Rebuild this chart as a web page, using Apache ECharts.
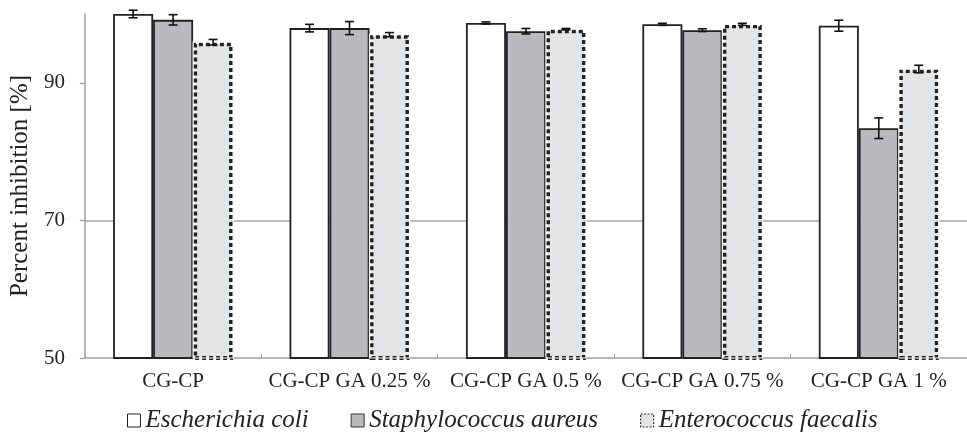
<!DOCTYPE html>
<html>
<head>
<meta charset="utf-8">
<script src="https://cdn.jsdelivr.net/npm/echarts@6/dist/echarts.min.js"></script>
<style>
html,body{margin:0;padding:0;background:#fff;}
#chart{width:967px;height:433px;}
</style>
</head>
<body>
<div id="chart"></div>
<script>
// ---- data ----
var categories = ['CG-CP', 'CG-CP GA 0.25 %', 'CG-CP GA 0.5 %', 'CG-CP GA 0.75 %', 'CG-CP GA 1 %'];
var seriesNames = ['Escherichia coli', 'Staphylococcus aureus', 'Enterococcus faecalis'];
var ecoli = [100.0, 97.95, 98.7, 98.5, 98.3];
var ecoliErr = [0.55, 0.55, 0.15, 0.15, 0.8];
var saureus = [99.15, 97.95, 97.5, 97.65, 83.4];
var saureusErr = [0.75, 0.95, 0.4, 0.2, 1.5];
var efaecalis = [95.9, 97.0, 97.8, 98.5, 92.0];
var efaecalisErr = [0.4, 0.3, 0.1, 0.15, 0.55];
var yTicks = [50, 70, 90];
var yMin = 50, yMax = 100, yInterval = 20;

// ---- build ----
var FONT = 'Liberation Serif';
var BAR_W = 40;
var values = [ecoli, saureus, efaecalis];
var errs = [ecoliErr, saureusErr, efaecalisErr];

var errData = [];
for (var s = 0; s < 3; s++) {
  for (var i = 0; i < categories.length; i++) {
    errData.push([i, values[s][i], errs[s][i], s]);
  }
}
var halfTicks = [];
for (var k = 0; k < categories.length * 2; k++) halfTicks.push('t' + k);

var overlayData = efaecalis.map(function (v, i) { return [i, v]; });

var chart = echarts.init(document.getElementById('chart'), null, {renderer: 'canvas'});
chart.setOption({
  animation: false,
  backgroundColor: '#fff',
  grid: {left: 83, right: -11, top: 14, bottom: 75, containLabel: false},
  legend: {
    left: 122, top: 403,
    itemWidth: 13, itemHeight: 13, itemGap: 42,
    textStyle: {fontFamily: FONT, fontSize: 25, fontStyle: 'italic', color: '#222'},
    data: [
      {name: seriesNames[0], icon: 'rect', itemStyle: {color: '#fff', borderColor: '#222', borderWidth: 1, borderType: 'solid'}},
      {name: seriesNames[1], icon: 'rect', itemStyle: {color: '#b9babd', borderColor: '#333', borderWidth: 1, borderType: 'solid'}},
      {name: seriesNames[2], icon: 'rect', itemStyle: {color: '#e3e4e6', borderColor: '#333', borderWidth: 1.2, borderType: [2, 1.5]}}
    ]
  },
  xAxis: [{
    type: 'category',
    data: categories,
    axisLine: {show: true, lineStyle: {color: '#a0a0a0', width: 1.5}},
    axisTick: {show: false},
    axisLabel: {interval: 0, fontFamily: FONT, fontSize: 21, color: '#222', margin: 13}
  }, {
    type: 'category',
    data: halfTicks,
    position: 'bottom',
    axisLine: {show: false},
    axisLabel: {show: false},
    axisTick: {show: true, inside: true, length: 4, lineStyle: {color: '#a0a0a0', width: 1}}
  }],
  yAxis: {
    type: 'value',
    min: yMin, max: yMax, interval: yInterval,
    name: 'Percent inhibition [%]',
    nameLocation: 'middle',
    nameGap: 47,
    nameTextStyle: {fontFamily: FONT, fontSize: 25, color: '#222'},
    axisLine: {show: true, lineStyle: {color: '#a0a0a0', width: 1.5}},
    axisTick: {show: true, length: 5, customValues: yTicks, lineStyle: {color: '#a0a0a0', width: 1.3}},
    axisLabel: {fontFamily: FONT, fontSize: 21, color: '#222', margin: 20, customValues: yTicks},
    splitLine: {show: true, showMinLine: false, showMaxLine: false, lineStyle: {color: '#a8a8a8', width: 1.5}}
  },
  series: [{
    name: seriesNames[0], type: 'bar', data: ecoli, barWidth: BAR_W, barGap: '0%',
    itemStyle: {color: '#ffffff', borderColor: '#222', borderWidth: 1.8}
  }, {
    name: seriesNames[1], type: 'bar', data: saureus, barWidth: BAR_W, barGap: '0%',
    itemStyle: {color: '#b9babd', borderColor: '#222', borderWidth: 1.8}
  }, {
    name: seriesNames[2], type: 'bar', data: efaecalis, barWidth: BAR_W, barGap: '0%',
    itemStyle: {color: '#e3e4e6', borderColor: '#222', borderWidth: 4, borderType: [4, 3]}
  }, {
    type: 'custom',
    silent: true,
    z: 3,
    data: overlayData,
    encode: {x: 0, y: 1},
    renderItem: function (params, api) {
      var i = api.value(0);
      var top = api.coord([i, api.value(1)]);
      var bot = api.coord([i, yMin]);
      var x = top[0] + BAR_W / 2;
      return {
        type: 'rect',
        shape: {x: x, y: top[1], width: BAR_W, height: bot[1] - top[1]},
        style: {fill: null, stroke: '#ffffff', lineWidth: 1.2}
      };
    }
  }, {
    type: 'custom',
    silent: true,
    z: 4,
    data: errData,
    encode: {x: 0, y: 1},
    renderItem: function (params, api) {
      var i = api.value(0), v = api.value(1), e = api.value(2), s = api.value(3);
      var hi = api.coord([i, v + e]);
      var lo = api.coord([i, v - e]);
      var x = hi[0] + (s - 1) * BAR_W;
      var cap = 4.5;
      var st = {stroke: '#111', lineWidth: 1.6};
      return {
        type: 'group',
        children: [
          {type: 'line', shape: {x1: x, y1: hi[1], x2: x, y2: lo[1]}, style: st},
          {type: 'line', shape: {x1: x - cap, y1: hi[1], x2: x + cap, y2: hi[1]}, style: st},
          {type: 'line', shape: {x1: x - cap, y1: lo[1], x2: x + cap, y2: lo[1]}, style: st}
        ]
      };
    }
  }]
});
</script>
</body>
</html>
